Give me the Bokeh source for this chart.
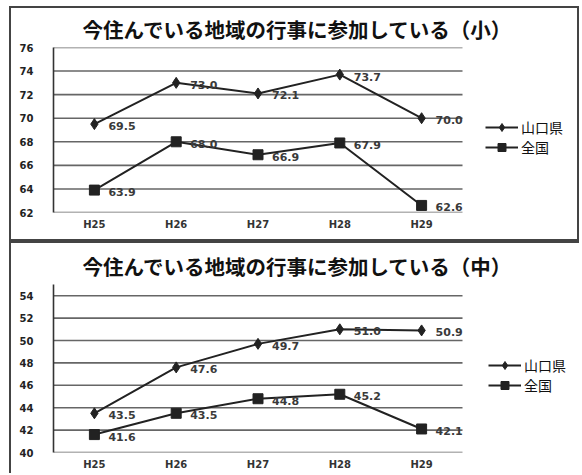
from bokeh.plotting import figure
from bokeh.models import Legend, LegendItem, ColumnDataSource, FixedTicker, Range1d, Spacer
from bokeh.layouts import column, row
from bokeh.embed import file_html
from bokeh.resources import INLINE
from bokeh.core.properties import value

years = ["H25", "H26", "H27", "H28", "H29"]
series_names = ["山口県", "全国"]

title_sho = "今住んでいる地域の行事に参加している（小）"
yamaguchi_sho = [69.5, 73.0, 72.1, 73.7, 70.0]
zenkoku_sho = [63.9, 68.0, 66.9, 67.9, 62.6]
ticks_sho = [62, 64, 66, 68, 70, 72, 74, 76]

title_chu = "今住んでいる地域の行事に参加している（中）"
yamaguchi_chu = [43.5, 47.6, 49.7, 51.0, 50.9]
zenkoku_chu = [41.6, 43.5, 44.8, 45.2, 42.1]
ticks_chu = [40, 42, 44, 46, 48, 50, 52, 54]

DARK = "#222222"
GRID = "#666666"
JP = "Noto Sans CJK JP"

FIG_W = 570
BORDER_L = 42
BORDER_R = 4
CAT_AREA = 409  # pixel width of the category area of the plot


def make_panel(title, ys_a, ys_b, ticks, y_lo, y_hi, height, top, bottom,
               title_standoff, legend_loc, border_css):
    n = len(years)
    xs = list(range(n))
    frame_w = FIG_W - BORDER_L - BORDER_R
    x_end = -0.5 + n * frame_w / CAT_AREA
    p = figure(width=FIG_W, height=height,
               x_range=Range1d(-0.5, x_end),
               y_range=Range1d(y_lo, y_hi), output_backend="svg",
               toolbar_location=None, min_border_left=BORDER_L,
               min_border_right=BORDER_R, min_border_top=top,
               min_border_bottom=bottom)
    p.styles = border_css
    p.title.text = title
    p.title.text_font = JP
    p.title.text_font_size = "20.5px"
    p.title.text_font_style = "bold"
    p.title.text_color = "#111111"
    p.title.align = "left"
    p.title.vertical_align = "top"
    p.title.offset = 29
    p.title.standoff = title_standoff

    p.outline_line_color = None
    p.background_fill_color = "white"
    p.border_fill_color = "white"

    p.xgrid.grid_line_color = None
    p.ygrid.grid_line_color = None
    # horizontal grid lines across the category area only
    p.segment(x0=[-0.5] * len(ticks), x1=[n - 0.5] * len(ticks),
              y0=ticks, y1=ticks, line_color=GRID, line_width=1.6)

    p.yaxis.ticker = FixedTicker(ticks=ticks)
    p.yaxis.major_tick_line_color = None
    p.yaxis.minor_tick_line_color = None
    p.yaxis.major_tick_out = 0
    p.yaxis.minor_tick_out = 0
    p.yaxis.axis_line_color = "#333333"
    p.yaxis.axis_line_width = 1.6
    p.yaxis.major_label_standoff = 20
    p.yaxis.major_label_text_font = "DejaVu Sans"
    p.yaxis.major_label_text_font_style = "bold"
    p.yaxis.major_label_text_font_size = "10px"
    p.yaxis.major_label_text_color = DARK

    p.xaxis.ticker = FixedTicker(ticks=xs)
    p.xaxis.major_label_overrides = {i: y for i, y in enumerate(years)}
    p.xaxis.major_tick_line_color = None
    p.xaxis.minor_tick_line_color = None
    p.xaxis.major_tick_out = 0
    p.xaxis.minor_tick_out = 0
    p.xaxis.axis_line_color = None
    p.xaxis.major_label_standoff = 6
    p.xaxis.major_label_text_font = "DejaVu Sans"
    p.xaxis.major_label_text_font_style = "bold"
    p.xaxis.major_label_text_font_size = "10px"
    p.xaxis.major_label_text_color = "#333333"

    items = []
    for name, ys, marker, msize in ((series_names[0], ys_a, "diamond", 11),
                                    (series_names[1], ys_b, "square", 10)):
        src = ColumnDataSource(dict(x=xs, y=ys,
                                    lab=["%.1f" % v for v in ys]))
        ln = p.line("x", "y", source=src, line_color=DARK, line_width=2)
        sc = p.scatter("x", "y", source=src, marker=marker, size=msize,
                       fill_color=DARK, line_color=DARK)
        p.text("x", "y", text="lab", source=src, x_offset=14, y_offset=2,
               text_baseline="middle", text_align="left",
               text_font=value("DejaVu Sans"), text_font_style="bold",
               text_font_size="11px", text_color="#3a3a3a")
        items.append(LegendItem(label=name, renderers=[ln, sc]))

    lg = Legend(items=items, location=legend_loc, orientation="vertical",
                glyph_width=33, glyph_height=20, label_standoff=3,
                label_height=20, spacing=0, padding=0, margin=0,
                border_line_color=None, background_fill_alpha=0,
                label_text_font=JP, label_text_font_size="14px",
                label_text_color="#111111")
    p.add_layout(lg, "center")
    return p


p1 = make_panel(title_sho, yamaguchi_sho, zenkoku_sho, ticks_sho, 62, 76,
                235, 39, 31, 4, (432, 55),
                {"border": "2px solid #444444", "box-sizing": "border-box"})
p2 = make_panel(title_chu, yamaguchi_chu, zenkoku_chu, ticks_chu, 40, 55,
                232, 41, 23, 4, (435, 57),
                {"border-top": "2px solid #444444",
                 "border-left": "2px solid #444444",
                 "box-sizing": "border-box"})

layout = row(Spacer(width=9, height=10),
             column(Spacer(width=10, height=6), p1, p2, spacing=0),
             spacing=0)

with open("out.html", "w") as f:
    f.write(file_html(layout, INLINE))
